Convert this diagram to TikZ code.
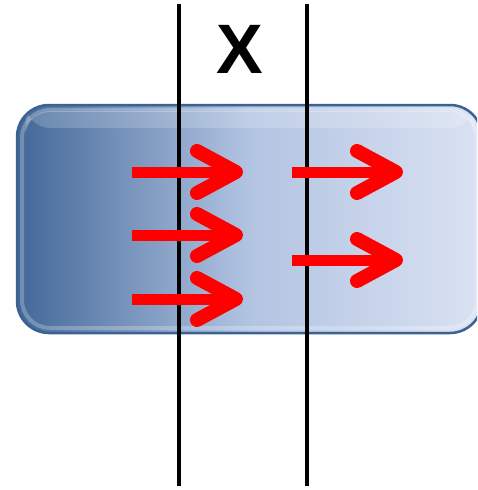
\documentclass[tikz,border=0pt]{standalone}
\usepackage{fontspec}
\setmainfont{Liberation Sans}
\begin{document}
\begin{tikzpicture}[x=1pt,y=-1pt,
  shaft/.style={line width=11pt,red},
  barb/.style={line width=14pt,red,line cap=round,line join=round},
  wall/.style={line width=4pt,black}]
\useasboundingbox (0,0) rectangle (477,490);
% bar
\begin{scope}
\clip (0,0) rectangle (477,490);
\shade[rounded corners=32pt,left color={rgb,255:red,66;green,104;blue,152},right color={rgb,255:red,218;green,226;blue,242},middle color={rgb,255:red,178;green,196;blue,226}]
  (17,105) rectangle (482,333);
\shade[rounded corners=24pt,top color=white,bottom color=white,opacity=0.18]
  (26,111) rectangle (474,128);
\draw[line width=4pt,white,opacity=0.25,rounded corners=28pt]
  (22,110) rectangle (477,328);
\draw[line width=2.5pt,color={rgb,255:red,60;green,98;blue,146},rounded corners=32pt]
  (17,105) rectangle (482,333);
\end{scope}
% walls
\coordinate (w1t) at (179,4);
\coordinate (w1b) at (179,486);
\coordinate (w2t) at (307,4);
\coordinate (w2b) at (307,486);
\draw[wall] (w1t) -- (w1b);
\draw[wall] (w2t) -- (w2b);
\node[font=\fontsize{70}{70}\selectfont\bfseries,inner sep=0pt] (xlab) at (240,49) {X};
% arrows
\foreach \n/\xa/\y in {a/132/172,b/132/235,c/132/299,d/292/172,e/292/260}{
  \coordinate (\n s) at (\xa,\y);
  \coordinate (\n t) at ({\xa+104},\y);
  \draw[shaft] (\n s) -- (\n t);
  \draw[barb] ([shift={(-39pt,-21pt)}]\n t) -- (\n t) -- ([shift={(-39pt,21pt)}]\n t);
}
\end{tikzpicture}
\end{document}
